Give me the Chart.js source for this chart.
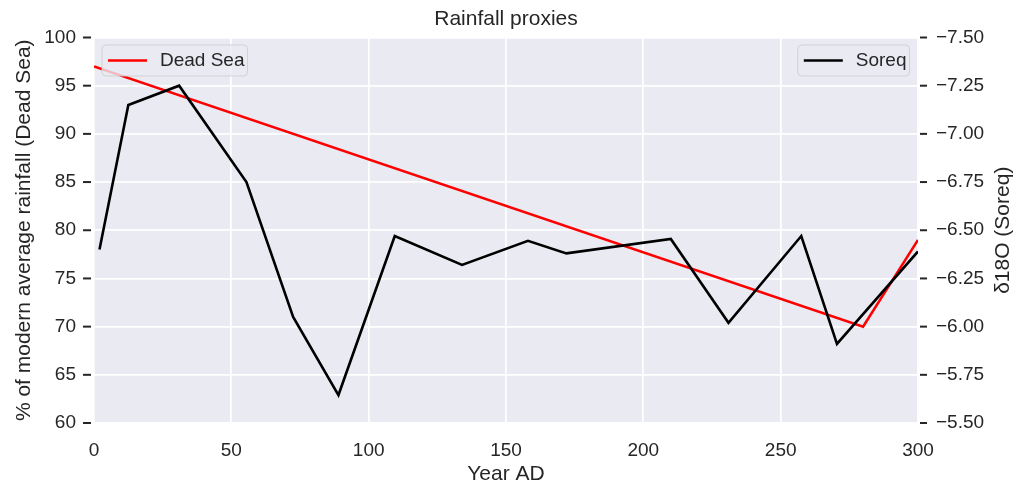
<!DOCTYPE html>
<html>
<head>
<meta charset="utf-8">
<title>Rainfall proxies</title>
<script src="https://cdn.jsdelivr.net/npm/chart.js@4"></script>
<style>
  html, body { margin: 0; padding: 0; background: #fff; }
  canvas { display: block; }
</style>
</head>
<body>
<canvas id="rain-chart" width="1027" height="486"></canvas>
<script>
const canvasElement = document.getElementById("rain-chart");

// Dead Sea level reconstruction (% of modern average rainfall)
const deadSeaYears = [0, 280, 300];
const deadSeaValues = [97, 70, 79];

// Soreq cave speleothem d18O
const soreqYears = [2, 12.5, 31, 55.5, 72.5, 89, 109.5, 134, 158, 172, 210, 231, 257.5, 270.5, 300];
const soreqValues = [-6.4, -7.15, -7.25, -6.75, -6.05, -5.645, -6.47, -6.32, -6.445, -6.38, -6.455, -6.02, -6.47, -5.91, -6.39];

const xTicks = [0, 50, 100, 150, 200, 250, 300];
const leftTicks = [60, 65, 70, 75, 80, 85, 90, 95, 100];
const rightTicks = [-7.5, -7.25, -7.0, -6.75, -6.5, -6.25, -6.0, -5.75, -5.5];

const toPoints = (xs, ys) => xs.map((x, i) => ({ x: x, y: ys[i] }));

const textColor = "#262626";
const axesBackground = "#eaeaf2";
const fontFamily = "'Liberation Sans', Arial, 'DejaVu Sans', sans-serif";

// seaborn-ish axes background
const backgroundPlugin = {
  id: "axesBackground",
  beforeDraw(chart) {
    const { ctx, chartArea } = chart;
    ctx.save();
    ctx.fillStyle = axesBackground;
    ctx.fillRect(chartArea.left, chartArea.top, chartArea.right - chartArea.left, chartArea.bottom - chartArea.top);
    ctx.restore();
  },
};

// short dark tick marks sitting a little off the axes, plus right label
const ticksPlugin = {
  id: "tickMarks",
  afterDraw(chart) {
    const { ctx, chartArea, scales } = chart;
    ctx.save();
    ctx.strokeStyle = textColor;
    ctx.lineWidth = 2;
    scales.y.ticks.forEach((t) => {
      const py = scales.y.getPixelForValue(t.value);
      ctx.beginPath();
      ctx.moveTo(chartArea.left - 11, py);
      ctx.lineTo(chartArea.left - 3, py);
      ctx.stroke();
    });
    scales.y1.ticks.forEach((t) => {
      const py = scales.y1.getPixelForValue(t.value);
      ctx.beginPath();
      ctx.moveTo(chartArea.right + 2, py);
      ctx.lineTo(chartArea.right + 9, py);
      ctx.stroke();
    });

    // right axis title reads bottom to top, like matplotlib
    ctx.translate(chart.width - 24, (chartArea.top + chartArea.bottom) / 2);
    ctx.rotate(-Math.PI / 2);
    ctx.fillStyle = textColor;
    ctx.font = "21px " + fontFamily;
    ctx.textAlign = "center";
    ctx.textBaseline = "middle";
    ctx.fillText("\u03b418O (Soreq)", 0, 0);
    ctx.restore();
  },
};

// two separate legends, one per axis, like twinx
const drawLegendBox = (ctx, left, top, label, color) => {
  ctx.font = "19px " + fontFamily;
  const textWidth = ctx.measureText(label).width;
  const w = 6 + 39 + 13 + textWidth + 3;
  const h = 31;
  ctx.beginPath();
  ctx.roundRect(left, top, w, h, 4);
  ctx.fillStyle = "rgba(234, 234, 242, 0.8)";
  ctx.fill();
  ctx.strokeStyle = "rgba(204, 204, 204, 0.8)";
  ctx.lineWidth = 1;
  ctx.stroke();
  ctx.beginPath();
  ctx.moveTo(left + 6, top + h / 2);
  ctx.lineTo(left + 45, top + h / 2);
  ctx.strokeStyle = color;
  ctx.lineWidth = 2.6;
  ctx.stroke();
  ctx.fillStyle = textColor;
  ctx.textAlign = "left";
  ctx.textBaseline = "middle";
  ctx.fillText(label, left + 58, top + h / 2);
  return w;
};

const legendPlugin = {
  id: "twinLegends",
  afterDatasetsDraw(chart) {
    const { ctx, chartArea } = chart;
    ctx.save();
    drawLegendBox(ctx, chartArea.left + 8, chartArea.top + 7.5, "Dead Sea", "#ff0000");
    ctx.font = "19px " + fontFamily;
    const soreqWidth = 6 + 39 + 13 + ctx.measureText("Soreq").width + 3;
    drawLegendBox(ctx, chartArea.right - 8.5 - soreqWidth, chartArea.top + 7.5, "Soreq", "#000000");
    ctx.restore();
  },
};

const config = {
  type: "scatter",
  data: {
    datasets: [
      {
        label: "Soreq",
        data: toPoints(soreqYears, soreqValues),
        yAxisID: "y1",
        showLine: true,
        borderColor: "#000000",
        borderWidth: 2.6,
        pointRadius: 0,
        pointHoverRadius: 0,
        tension: 0,
      },
      {
        label: "Dead Sea",
        data: toPoints(deadSeaYears, deadSeaValues),
        yAxisID: "y",
        showLine: true,
        borderColor: "#ff0000",
        borderWidth: 2.6,
        pointRadius: 0,
        pointHoverRadius: 0,
        tension: 0,
      },
    ],
  },
  options: {
    responsive: false,
    animation: false,
    layout: { padding: 0 },
    plugins: {
      legend: { display: false },
      tooltip: { enabled: false },
      title: {
        display: true,
        fullSize: false,
        text: "Rainfall proxies",
        color: textColor,
        font: { family: fontFamily, size: 21, weight: "normal", lineHeight: 1.2 },
        padding: { top: 7, bottom: 5.3 },
      },
    },
    scales: {
      x: {
        type: "linear",
        min: 0,
        max: 300,
        afterBuildTicks: (scale) => {
          scale.ticks = xTicks.map((v) => ({ value: v }));
        },
        afterFit: (scale) => {
          scale.height = 63;
        },
        border: { display: false },
        grid: { color: "#ffffff", lineWidth: 1.7, drawTicks: false },
        ticks: {
          color: textColor,
          padding: 16,
          font: { family: fontFamily, size: 19 },
          maxRotation: 0,
        },
        title: {
          display: true,
          text: "Year AD",
          color: textColor,
          font: { family: fontFamily, size: 21, lineHeight: 1 },
          padding: { top: 0, bottom: 1 },
        },
      },
      y: {
        type: "linear",
        position: "left",
        min: 60,
        max: 100,
        afterBuildTicks: (scale) => {
          scale.ticks = leftTicks.map((v) => ({ value: v }));
        },
        afterFit: (scale) => {
          scale.width = 94;
        },
        border: { display: false },
        grid: { color: "#ffffff", lineWidth: 1.7, drawTicks: false },
        ticks: {
          color: textColor,
          padding: 18,
          font: { family: fontFamily, size: 19 },
        },
        title: {
          display: true,
          text: "% of modern average rainfall (Dead Sea)",
          color: textColor,
          font: { family: fontFamily, size: 21, lineHeight: 1 },
          padding: { top: 14, bottom: 0 },
        },
      },
      y1: {
        type: "linear",
        position: "right",
        reverse: true,
        min: -7.5,
        max: -5.5,
        afterBuildTicks: (scale) => {
          scale.ticks = rightTicks.map((v) => ({ value: v }));
        },
        afterFit: (scale) => {
          scale.width = 109;
        },
        border: { display: false },
        grid: { drawOnChartArea: false, drawTicks: false },
        ticks: {
          color: textColor,
          padding: 18,
          font: { family: fontFamily, size: 19 },
          callback: (value) => Number(value).toFixed(2).replace("-", "\u2212"),
        },
      },
    },
  },
  plugins: [backgroundPlugin, legendPlugin, ticksPlugin],
};

const rainChart = new Chart(canvasElement, config);
</script>
</body>
</html>
